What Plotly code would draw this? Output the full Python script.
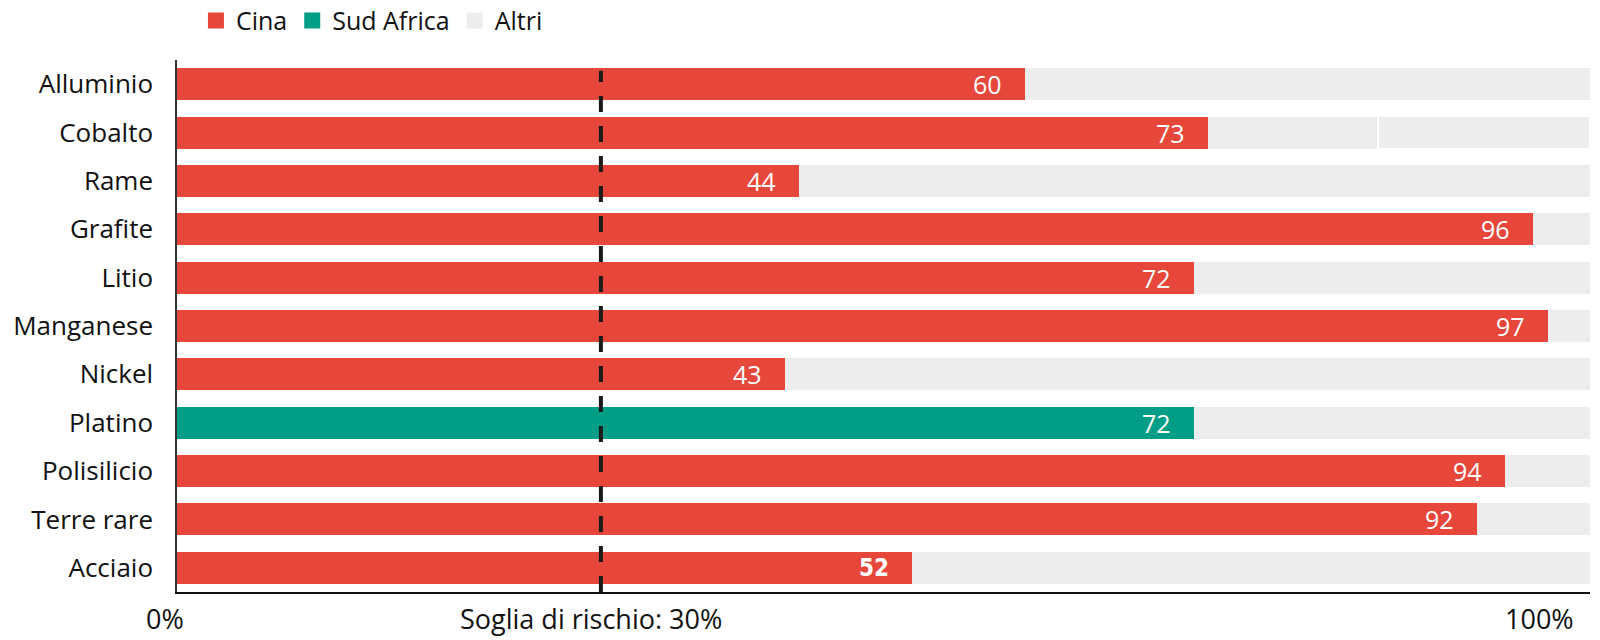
import plotly.graph_objects as go

materials = ['Alluminio', 'Cobalto', 'Rame', 'Grafite', 'Litio', 'Manganese',
             'Nickel', 'Platino', 'Polisilicio', 'Terre rare', 'Acciaio']
cina = [60, 73, 44, 96, 72, 97, 43, None, 94, 92, 52]
sud_africa = [None, None, None, None, None, None, None, 72, None, None, None]
altri = [40, 12, 56, 4, 28, 3, 57, 28, 6, 8, 48]
# Cobalto has its "Altri" part split in two blocks
altri_extra = [None, 15, None, None, None, None, None, None, None, None, None]
value_labels = ['60', '73', '44', '96', '72', '97', '43', '72', '94', '92', '52']
threshold = 30

RED = '#E7473B'
GREEN = '#009E86'
GREY = '#EDEDED'
FONT = 'Open Sans'
TXT = '#111'

fig = go.Figure()

fig.add_trace(go.Bar(y=materials, x=cina, name='Cina', orientation='h', showlegend=False,
                     marker=dict(color=RED, line=dict(width=0))))
fig.add_trace(go.Bar(y=materials, x=sud_africa, name='Sud Africa', orientation='h',
                     showlegend=False, marker=dict(color=GREEN, line=dict(width=0))))
fig.add_trace(go.Bar(y=materials, x=altri, name='Altri', orientation='h', showlegend=False,
                     marker=dict(color=GREY, line=dict(width=0))))
fig.add_trace(go.Bar(y=materials, x=altri_extra, name='Altri', orientation='h',
                     showlegend=False,
                     marker=dict(color=GREY, line=dict(width=1.5, color='white'))))

# legend entries with bigger square swatches
for name, col in [('Cina', RED), ('Sud Africa', GREEN), ('Altri', GREY)]:
    fig.add_trace(go.Scatter(x=[None], y=[None], mode='markers', name=name,
                             marker=dict(symbol='square', size=16, color=col,
                                         line=dict(width=0))))

# value labels inside the end of the main bar
for m, c, s, lab in zip(materials, cina, sud_africa, value_labels):
    end = c if c is not None else s
    bold = m == 'Acciaio'
    fig.add_annotation(x=end, y=m, text=f'<b>{lab}</b>' if bold else lab,
                       xanchor='right', xshift=-21, showarrow=False,
                       font=dict(family='DejaVu Sans Condensed, Liberation Sans' if bold else FONT,
                                 size=25 if not bold else 24, color='white'))

# risk threshold
fig.add_shape(type='line', x0=threshold, x1=threshold, xref='x',
              y0=0, y1=0.98, yref='paper',
              line=dict(color='#1a1a1a', width=4, dash='16px,14px'))

fig.add_annotation(x=threshold, y=0, yref='paper', yanchor='top', yshift=-6, xshift=-10,
                   text=f'Soglia di rischio: {threshold}%', showarrow=False,
                   font=dict(family=FONT, size=27, color=TXT))
fig.add_annotation(x=0, y=0, yref='paper', yanchor='top', yshift=-6, xshift=-12,
                   text='0%', showarrow=False, font=dict(family=FONT, size=27, color=TXT))
fig.add_annotation(x=100, y=0, yref='paper', xanchor='right', yanchor='top',
                   yshift=-6, xshift=-14,
                   text='100%', showarrow=False, font=dict(family=FONT, size=27, color=TXT))

fig.update_layout(
    barmode='stack',
    bargap=0.34,
    width=1600, height=640,
    margin=dict(l=169, r=18, t=52, b=56, autoexpand=False),
    plot_bgcolor='white', paper_bgcolor='white',
    font=dict(family=FONT, size=26, color=TXT),
    legend=dict(orientation='h', x=0.0134, xanchor='left',
                y=0.98, yref='container', yanchor='middle',
                font=dict(size=25), itemwidth=30, traceorder='normal'),
    xaxis=dict(range=[0, 100], showticklabels=False, showgrid=False, zeroline=False,
               showline=True, linecolor=TXT, linewidth=1.5, fixedrange=True),
    yaxis=dict(autorange='reversed', showgrid=False, zeroline=False,
               showline=True, linecolor='#333', linewidth=1.5,
               ticklabelstandoff=17, tickfont=dict(size=26, color=TXT)),
)

fig.write_html('out.html')
